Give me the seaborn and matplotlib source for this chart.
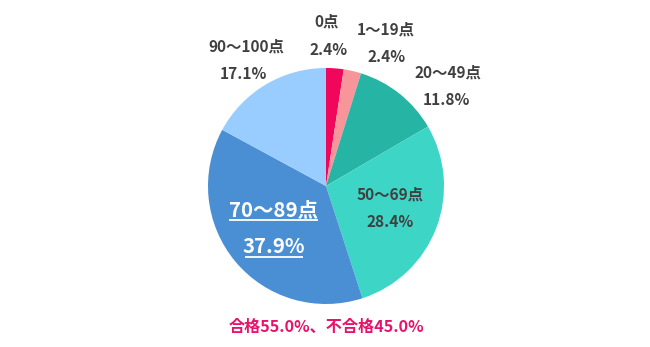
import matplotlib
matplotlib.use("Agg")
import matplotlib.pyplot as plt
import seaborn as sns
import numpy as np

categories = ["0点", "1～19点", "20～49点", "50～69点", "70～89点", "90～100点"]
values = [2.4, 2.4, 11.8, 28.4, 37.9, 17.1]
colors = ["#F0065A", "#F7959B", "#26B5A5", "#3DD6C6", "#4A8FD4", "#99CCFF"]
pct_labels = ["2.4%", "2.4%", "11.8%", "28.4%", "37.9%", "17.1%"]
footer = "合格55.0%、不合格45.0%"

sns.set_theme(style="white")
plt.rcParams["font.family"] = ["Noto Sans CJK JP", "DejaVu Sans"]

fig = plt.figure(figsize=(6.5, 3.47), dpi=100)
ax = fig.add_axes([0, 0, 1, 1])
R = 118.0
ax.pie(values, colors=colors, startangle=90, counterclock=False,
       radius=1.0, center=(0, 0), wedgeprops=dict(linewidth=0))
ax.set_xlim(-326 / R, (650 - 326) / R)
ax.set_ylim((186 - 347) / R, 186 / R)
ax.set_aspect("equal")
ax.axis("off")

# label positions in pixel space (name line, percent line)
pos = [((327, 22), (329, 50)),
       ((386, 30), (387, 57)),
       ((448, 73), (446, 100)),
       ((390, 195), (390, 222)),
       ((273, 210), (274, 247)),
       ((246, 47), (243, 74))]

def d(p):
    return ((p[0] - 326) / R, (186 - p[1]) / R)

for i, (cat, pct) in enumerate(zip(categories, pct_labels)):
    (p1, p2) = pos[i]
    if i == 4:
        for txt, p in ((cat, p1), (pct, p2)):
            x, y = d(p)
            ax.text(x, y, txt, ha="center", va="center", fontsize=14.7,
                    fontweight="bold", color="white")
        # underlines (pixel x-span, pixel y)
        for (xa, xb, yy) in ((229, 318, 219.5), (245, 303, 256.5)):
            x0, y0 = d((xa, yy))
            x1, _ = d((xb, yy))
            ax.plot([x0, x1], [y0, y0], color="white", lw=1.3,
                    solid_capstyle="butt")
    else:
        for txt, p in ((cat, p1), (pct, p2)):
            x, y = d(p)
            ax.text(x, y, txt, ha="center", va="center", fontsize=11.1,
                    fontweight="bold", color="#404040")

x, y = d((326, 327))
ax.text(x, y, footer, ha="center", va="center", fontsize=11.6,
        fontweight="bold", color="#E8126A")

fig.savefig("out.png", dpi=100)
